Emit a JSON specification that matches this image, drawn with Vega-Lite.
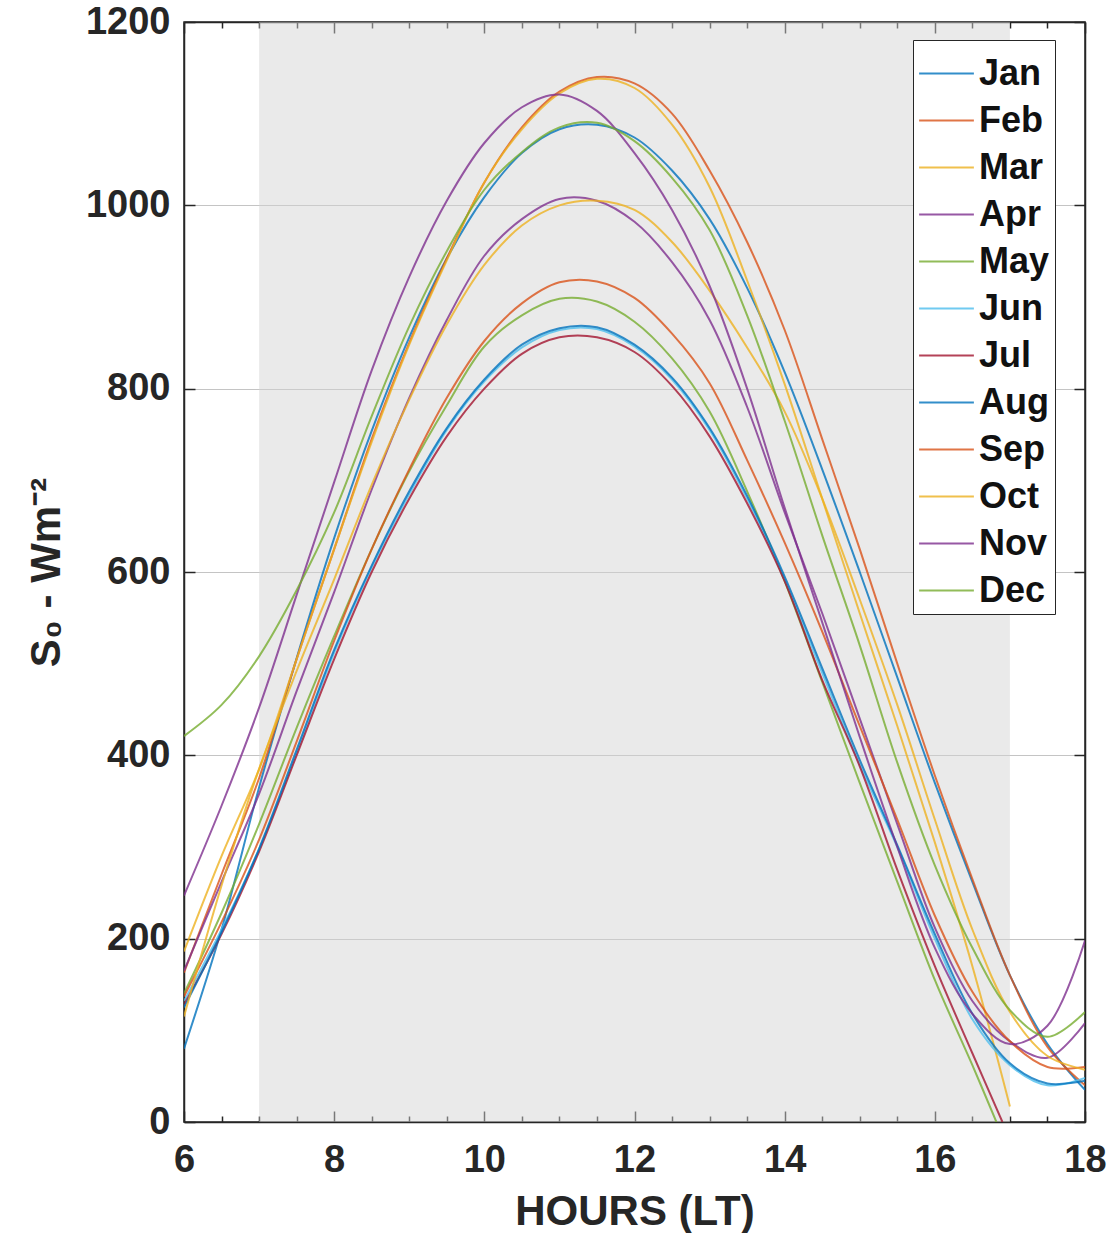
{
  "$schema": "https://vega.github.io/schema/vega-lite/v6.json",
  "autosize": {"type": "none"},
  "padding": {"left": 184, "top": 22, "right": 28, "bottom": 111},
  "width": 901,
  "height": 1100,
  "background": "white",
  "config": {
    "font": "Liberation Sans",
    "view": {"stroke": "#262626", "strokeWidth": 1.5},
    "axis": {
      "domainColor": "#262626",
      "domainWidth": 1.5,
      "tickColor": "#262626",
      "tickWidth": 1.5,
      "gridColor": "#c4c4c4",
      "gridWidth": 1,
      "labelFont": "Liberation Sans",
      "labelFontSize": 38,
      "labelFontWeight": "bold",
      "labelColor": "#262626",
      "labelFlush": false,
      "titleFont": "Liberation Sans",
      "titleFontSize": 42,
      "titleFontWeight": "bold",
      "titleColor": "#262626"
    }
  },
  "resolve": {"axis": {"x": "independent", "y": "independent"}},
  "datasets": {
    "shade": [{"start": 7, "end": 17}],
    "curves": [
      {"m":"Jan","h":6,"s":80},{"m":"Jan","h":6.5,"s":210},{"m":"Jan","h":7,"s":365},{"m":"Jan","h":7.5,"s":506},{"m":"Jan","h":8,"s":637},{"m":"Jan","h":8.5,"s":754},{"m":"Jan","h":9,"s":856},{"m":"Jan","h":9.5,"s":942},{"m":"Jan","h":10,"s":1009},{"m":"Jan","h":10.5,"s":1057},{"m":"Jan","h":11,"s":1083},{"m":"Jan","h":11.5,"s":1088},{"m":"Jan","h":12,"s":1074},{"m":"Jan","h":12.5,"s":1038},{"m":"Jan","h":13,"s":985},{"m":"Jan","h":13.5,"s":910},{"m":"Jan","h":14,"s":818},{"m":"Jan","h":14.5,"s":712},{"m":"Jan","h":15,"s":600},{"m":"Jan","h":15.5,"s":485},{"m":"Jan","h":16,"s":370},{"m":"Jan","h":16.5,"s":262},{"m":"Jan","h":17,"s":160},{"m":"Jan","h":17.5,"s":85},{"m":"Jan","h":18,"s":35},
      {"m":"Feb","h":6,"s":163},{"m":"Feb","h":6.5,"s":270},{"m":"Feb","h":7,"s":375},{"m":"Feb","h":7.5,"s":505},{"m":"Feb","h":8,"s":625},{"m":"Feb","h":8.5,"s":745},{"m":"Feb","h":9,"s":850},{"m":"Feb","h":9.5,"s":942},{"m":"Feb","h":10,"s":1025},{"m":"Feb","h":10.5,"s":1085},{"m":"Feb","h":11,"s":1124},{"m":"Feb","h":11.5,"s":1140},{"m":"Feb","h":12,"s":1133},{"m":"Feb","h":12.5,"s":1100},{"m":"Feb","h":13,"s":1038},{"m":"Feb","h":13.5,"s":960},{"m":"Feb","h":14,"s":864},{"m":"Feb","h":14.5,"s":745},{"m":"Feb","h":15,"s":625},{"m":"Feb","h":15.5,"s":500},{"m":"Feb","h":16,"s":378},{"m":"Feb","h":16.5,"s":265},{"m":"Feb","h":17,"s":160},{"m":"Feb","h":17.5,"s":82},{"m":"Feb","h":18,"s":40},
      {"m":"Mar","h":6,"s":186},{"m":"Mar","h":6.5,"s":290},{"m":"Mar","h":7,"s":385},{"m":"Mar","h":7.5,"s":505},{"m":"Mar","h":8,"s":625},{"m":"Mar","h":8.5,"s":742},{"m":"Mar","h":9,"s":848},{"m":"Mar","h":9.5,"s":940},{"m":"Mar","h":10,"s":1025},{"m":"Mar","h":10.5,"s":1083},{"m":"Mar","h":11,"s":1122},{"m":"Mar","h":11.5,"s":1138},{"m":"Mar","h":12,"s":1128},{"m":"Mar","h":12.5,"s":1088},{"m":"Mar","h":13,"s":1020},{"m":"Mar","h":13.5,"s":918},{"m":"Mar","h":14,"s":805},{"m":"Mar","h":14.5,"s":680},{"m":"Mar","h":15,"s":555},{"m":"Mar","h":15.5,"s":432},{"m":"Mar","h":16,"s":305},{"m":"Mar","h":16.5,"s":170},{"m":"Mar","h":17,"s":17},
      {"m":"Apr","h":6,"s":165},{"m":"Apr","h":6.5,"s":262},{"m":"Apr","h":7,"s":358},{"m":"Apr","h":7.5,"s":470},{"m":"Apr","h":8,"s":578},{"m":"Apr","h":8.5,"s":690},{"m":"Apr","h":9,"s":790},{"m":"Apr","h":9.5,"s":875},{"m":"Apr","h":10,"s":945},{"m":"Apr","h":10.5,"s":985},{"m":"Apr","h":11,"s":1007},{"m":"Apr","h":11.5,"s":1005},{"m":"Apr","h":12,"s":982},{"m":"Apr","h":12.5,"s":938},{"m":"Apr","h":13,"s":875},{"m":"Apr","h":13.5,"s":780},{"m":"Apr","h":14,"s":665},{"m":"Apr","h":14.5,"s":555},{"m":"Apr","h":15,"s":440},{"m":"Apr","h":15.5,"s":325},{"m":"Apr","h":16,"s":212},{"m":"Apr","h":16.5,"s":132},{"m":"Apr","h":17,"s":88},{"m":"Apr","h":17.5,"s":70},{"m":"Apr","h":18,"s":108},
      {"m":"May","h":6,"s":140},{"m":"May","h":6.5,"s":228},{"m":"May","h":7,"s":325},{"m":"May","h":7.5,"s":430},{"m":"May","h":8,"s":530},{"m":"May","h":8.5,"s":625},{"m":"May","h":9,"s":710},{"m":"May","h":9.5,"s":782},{"m":"May","h":10,"s":846},{"m":"May","h":10.5,"s":880},{"m":"May","h":11,"s":898},{"m":"May","h":11.5,"s":895},{"m":"May","h":12,"s":873},{"m":"May","h":12.5,"s":833},{"m":"May","h":13,"s":775},{"m":"May","h":13.5,"s":688},{"m":"May","h":14,"s":590},{"m":"May","h":14.5,"s":480},{"m":"May","h":15,"s":370},{"m":"May","h":15.5,"s":262},{"m":"May","h":16,"s":155},{"m":"May","h":16.5,"s":62},{"m":"May","h":16.82,"s":0},
      {"m":"Jun","h":6,"s":132},{"m":"Jun","h":6.5,"s":210},{"m":"Jun","h":7,"s":298},{"m":"Jun","h":7.5,"s":403},{"m":"Jun","h":8,"s":512},{"m":"Jun","h":8.5,"s":605},{"m":"Jun","h":9,"s":685},{"m":"Jun","h":9.5,"s":755},{"m":"Jun","h":10,"s":808},{"m":"Jun","h":10.5,"s":845},{"m":"Jun","h":11,"s":864},{"m":"Jun","h":11.5,"s":865},{"m":"Jun","h":12,"s":846},{"m":"Jun","h":12.5,"s":810},{"m":"Jun","h":13,"s":755},{"m":"Jun","h":13.5,"s":680},{"m":"Jun","h":14,"s":592},{"m":"Jun","h":14.5,"s":490},{"m":"Jun","h":15,"s":390},{"m":"Jun","h":15.5,"s":300},{"m":"Jun","h":16,"s":200},{"m":"Jun","h":16.5,"s":112},{"m":"Jun","h":17,"s":62},{"m":"Jun","h":17.5,"s":40},{"m":"Jun","h":18,"s":48},
      {"m":"Jul","h":6,"s":128},{"m":"Jul","h":6.5,"s":205},{"m":"Jul","h":7,"s":295},{"m":"Jul","h":7.5,"s":400},{"m":"Jul","h":8,"s":505},{"m":"Jul","h":8.5,"s":600},{"m":"Jul","h":9,"s":680},{"m":"Jul","h":9.5,"s":748},{"m":"Jul","h":10,"s":800},{"m":"Jul","h":10.5,"s":838},{"m":"Jul","h":11,"s":856},{"m":"Jul","h":11.5,"s":856},{"m":"Jul","h":12,"s":840},{"m":"Jul","h":12.5,"s":803},{"m":"Jul","h":13,"s":748},{"m":"Jul","h":13.5,"s":675},{"m":"Jul","h":14,"s":590},{"m":"Jul","h":14.5,"s":482},{"m":"Jul","h":15,"s":388},{"m":"Jul","h":15.5,"s":275},{"m":"Jul","h":16,"s":170},{"m":"Jul","h":16.5,"s":75},{"m":"Jul","h":16.9,"s":0},
      {"m":"Aug","h":6,"s":125},{"m":"Aug","h":6.5,"s":207},{"m":"Aug","h":7,"s":298},{"m":"Aug","h":7.5,"s":406},{"m":"Aug","h":8,"s":515},{"m":"Aug","h":8.5,"s":607},{"m":"Aug","h":9,"s":688},{"m":"Aug","h":9.5,"s":757},{"m":"Aug","h":10,"s":810},{"m":"Aug","h":10.5,"s":848},{"m":"Aug","h":11,"s":866},{"m":"Aug","h":11.5,"s":867},{"m":"Aug","h":12,"s":848},{"m":"Aug","h":12.5,"s":812},{"m":"Aug","h":13,"s":757},{"m":"Aug","h":13.5,"s":683},{"m":"Aug","h":14,"s":595},{"m":"Aug","h":14.5,"s":495},{"m":"Aug","h":15,"s":395},{"m":"Aug","h":15.5,"s":302},{"m":"Aug","h":16,"s":205},{"m":"Aug","h":16.5,"s":118},{"m":"Aug","h":17,"s":64},{"m":"Aug","h":17.5,"s":42},{"m":"Aug","h":18,"s":45},
      {"m":"Sep","h":6,"s":137},{"m":"Sep","h":6.5,"s":218},{"m":"Sep","h":7,"s":308},{"m":"Sep","h":7.5,"s":415},{"m":"Sep","h":8,"s":525},{"m":"Sep","h":8.5,"s":625},{"m":"Sep","h":9,"s":712},{"m":"Sep","h":9.5,"s":790},{"m":"Sep","h":10,"s":852},{"m":"Sep","h":10.5,"s":893},{"m":"Sep","h":11,"s":916},{"m":"Sep","h":11.5,"s":917},{"m":"Sep","h":12,"s":899},{"m":"Sep","h":12.5,"s":860},{"m":"Sep","h":13,"s":806},{"m":"Sep","h":13.5,"s":722},{"m":"Sep","h":14,"s":632},{"m":"Sep","h":14.5,"s":535},{"m":"Sep","h":15,"s":432},{"m":"Sep","h":15.5,"s":330},{"m":"Sep","h":16,"s":225},{"m":"Sep","h":16.5,"s":142},{"m":"Sep","h":17,"s":88},{"m":"Sep","h":17.5,"s":60},{"m":"Sep","h":18,"s":60},
      {"m":"Oct","h":6,"s":115},{"m":"Oct","h":6.5,"s":258},{"m":"Oct","h":7,"s":385},{"m":"Oct","h":7.5,"s":492},{"m":"Oct","h":8,"s":592},{"m":"Oct","h":8.5,"s":695},{"m":"Oct","h":9,"s":788},{"m":"Oct","h":9.5,"s":870},{"m":"Oct","h":10,"s":935},{"m":"Oct","h":10.5,"s":978},{"m":"Oct","h":11,"s":1000},{"m":"Oct","h":11.5,"s":1005},{"m":"Oct","h":12,"s":995},{"m":"Oct","h":12.5,"s":960},{"m":"Oct","h":13,"s":907},{"m":"Oct","h":13.5,"s":845},{"m":"Oct","h":14,"s":775},{"m":"Oct","h":14.5,"s":680},{"m":"Oct","h":15,"s":570},{"m":"Oct","h":15.5,"s":455},{"m":"Oct","h":16,"s":330},{"m":"Oct","h":16.5,"s":210},{"m":"Oct","h":17,"s":120},{"m":"Oct","h":17.5,"s":72},{"m":"Oct","h":18,"s":57},
      {"m":"Nov","h":6,"s":247},{"m":"Nov","h":6.5,"s":345},{"m":"Nov","h":7,"s":452},{"m":"Nov","h":7.5,"s":575},{"m":"Nov","h":8,"s":698},{"m":"Nov","h":8.5,"s":820},{"m":"Nov","h":9,"s":922},{"m":"Nov","h":9.5,"s":1005},{"m":"Nov","h":10,"s":1068},{"m":"Nov","h":10.5,"s":1107},{"m":"Nov","h":11,"s":1121},{"m":"Nov","h":11.5,"s":1103},{"m":"Nov","h":12,"s":1057},{"m":"Nov","h":12.5,"s":995},{"m":"Nov","h":13,"s":912},{"m":"Nov","h":13.5,"s":800},{"m":"Nov","h":14,"s":670},{"m":"Nov","h":14.5,"s":545},{"m":"Nov","h":15,"s":420},{"m":"Nov","h":15.5,"s":300},{"m":"Nov","h":16,"s":190},{"m":"Nov","h":16.5,"s":118},{"m":"Nov","h":17,"s":85},{"m":"Nov","h":17.5,"s":105},{"m":"Nov","h":18,"s":198},
      {"m":"Dec","h":6,"s":421},{"m":"Dec","h":6.5,"s":455},{"m":"Dec","h":7,"s":508},{"m":"Dec","h":7.5,"s":580},{"m":"Dec","h":8,"s":665},{"m":"Dec","h":8.5,"s":770},{"m":"Dec","h":9,"s":868},{"m":"Dec","h":9.5,"s":950},{"m":"Dec","h":10,"s":1017},{"m":"Dec","h":10.5,"s":1058},{"m":"Dec","h":11,"s":1085},{"m":"Dec","h":11.5,"s":1090},{"m":"Dec","h":12,"s":1070},{"m":"Dec","h":12.5,"s":1030},{"m":"Dec","h":13,"s":973},{"m":"Dec","h":13.5,"s":880},{"m":"Dec","h":14,"s":765},{"m":"Dec","h":14.5,"s":640},{"m":"Dec","h":15,"s":520},{"m":"Dec","h":15.5,"s":392},{"m":"Dec","h":16,"s":280},{"m":"Dec","h":16.5,"s":190},{"m":"Dec","h":17,"s":122},{"m":"Dec","h":17.5,"s":93},{"m":"Dec","h":18,"s":120}
    ]
  },
  "layer": [
    {
      "data": {"name": "shade"},
      "mark": {"type": "rect", "color": "#d4d4d4", "opacity": 0.48},
      "encoding": {
        "x": {"field": "start", "type": "quantitative",
              "scale": {"domain": [6, 18], "nice": false, "zero": false},
              "axis": null},
        "x2": {"field": "end"}
      }
    },
    {
      "data": {"name": "curves"},
      "mark": {"type": "line", "strokeWidth": 2, "opacity": 0.8, "interpolate": "catmull-rom", "clip": true},
      "encoding": {
        "x": {"field": "h", "type": "quantitative", "title": "HOURS (LT)",
              "scale": {"domain": [6, 18], "nice": false, "zero": false},
              "axis": {
                "values": [6,6.5,7,7.5,8,8.5,9,9.5,10,10.5,11,11.5,12,12.5,13,13.5,14,14.5,15,15.5,16,16.5,17,17.5,18],
                "labelExpr": "datum.value % 2 === 0 ? format(datum.value, 'd') : ''",
                "gridOpacity": {"condition": {"test": "datum.value % 2 === 0", "value": 1}, "value": 0},
                "tickSize": {"condition": {"test": "datum.value % 2 === 0", "value": -11}, "value": -6},
                "labelPadding": 30,
                "titlePadding": 12
              }},
        "y": {"field": "s", "type": "quantitative", "title": "S₀ - Wm⁻²",
              "scale": {"domain": [0, 1200], "nice": false},
              "axis": {
                "values": [0,200,400,600,800,1000,1200],
                "format": "d",
                "tickSize": -11,
                "labelPadding": 25,
                "titlePadding": 17
              }},
        "color": {"field": "m", "type": "nominal",
                  "sort": ["Jan","Feb","Mar","Apr","May","Jun","Jul","Aug","Sep","Oct","Nov","Dec"],
                  "scale": {"domain": ["Jan","Feb","Mar","Apr","May","Jun","Jul","Aug","Sep","Oct","Nov","Dec"],
                            "range": ["#0072BD","#D95319","#EDB120","#7E2F8E","#77AC30","#4DBEEE","#A2142F","#0072BD","#D95319","#EDB120","#7E2F8E","#77AC30"]},
                  "legend": {
                    "orient": "none", "legendX": 729, "legendY": 18,
                    "title": null,
                    "fillColor": "white", "strokeColor": "#262626",
                    "padding": 5,
                    "symbolType": "stroke", "symbolSize": 3000, "symbolStrokeWidth": 2, "symbolOpacity": 0.8,
                    "labelFont": "Liberation Sans", "labelFontSize": 36, "labelFontWeight": "bold", "labelColor": "#111111",
                    "labelOffset": 4, "rowPadding": 0
                  }}
      }
    },
    {
      "data": {"name": "shade"},
      "mark": {"type": "rule", "opacity": 0},
      "encoding": {
        "x": {"field": "start", "type": "quantitative",
              "scale": {"domain": [6, 18], "nice": false, "zero": false},
              "axis": {
                "orient": "top",
                "values": [6,6.5,7,7.5,8,8.5,9,9.5,10,10.5,11,11.5,12,12.5,13,13.5,14,14.5,15,15.5,16,16.5,17,17.5,18],
                "labels": false, "grid": false, "title": null,
                "tickSize": {"condition": {"test": "datum.value % 2 === 0", "value": -11}, "value": -6}
              }},
        "y": {"datum": 0, "type": "quantitative",
              "scale": {"domain": [0, 1200], "nice": false},
              "axis": {
                "orient": "right",
                "values": [0,200,400,600,800,1000,1200],
                "labels": false, "grid": false, "title": null,
                "tickSize": -11
              }}
      }
    }
  ]
}
